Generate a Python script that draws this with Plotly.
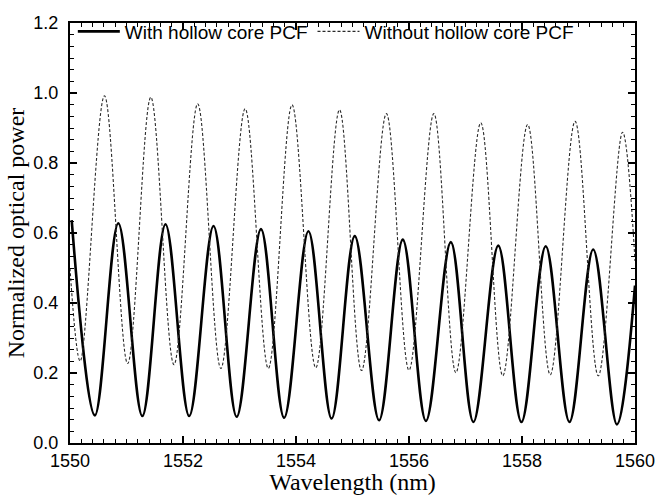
import plotly.graph_objects as go

# Extrema (wavelength nm, normalized power)
with_x = [1550.03, 1550.44, 1550.855, 1551.28, 1551.69, 1552.11, 1552.54, 1552.95,
          1553.38, 1553.79, 1554.22, 1554.63, 1555.04, 1555.47, 1555.89, 1556.30,
          1556.74, 1557.14, 1557.58, 1557.99, 1558.42, 1558.84, 1559.26, 1559.68, 1560.0]
with_y = [0.637, 0.079, 0.628, 0.077, 0.625, 0.077, 0.620, 0.075,
          0.611, 0.072, 0.605, 0.070, 0.591, 0.065, 0.581, 0.063,
          0.574, 0.060, 0.564, 0.060, 0.562, 0.060, 0.553, 0.053, 0.45]

without_x = [1550.0, 1550.18, 1550.61, 1551.02, 1551.43, 1551.84, 1552.26, 1552.67,
             1553.10, 1553.51, 1553.93, 1554.35, 1554.77, 1555.16, 1555.60, 1556.00,
             1556.44, 1556.83, 1557.27, 1557.66, 1558.10, 1558.50, 1558.94, 1559.35,
             1559.78, 1560.0]
without_y = [0.50, 0.234, 0.992, 0.227, 0.988, 0.224, 0.969, 0.213,
             0.955, 0.213, 0.966, 0.215, 0.952, 0.207, 0.941, 0.208,
             0.941, 0.201, 0.915, 0.192, 0.910, 0.195, 0.919, 0.192,
             0.888, 0.52]

fig = go.Figure()
fig.add_trace(go.Scatter(
    x=with_x, y=with_y, mode="lines", name="With hollow core PCF",
    line=dict(color="black", width=2.6, shape="spline", smoothing=1.0)))
fig.add_trace(go.Scatter(
    x=without_x, y=without_y, mode="lines", name="Without hollow core PCF",
    line=dict(color="#2a2a2a", width=1.1, dash="3px,2px", shape="spline", smoothing=1.0)))

tickfont = dict(family="Liberation Sans, Arial", size=18, color="black")
titlefont = dict(family="Liberation Serif, Times New Roman", size=24, color="black")

fig.update_layout(
    width=660, height=495,
    margin=dict(l=70, r=25, t=17, b=52),
    paper_bgcolor="white", plot_bgcolor="white",
    showlegend=True,
    legend=dict(orientation="h", x=0.005, y=1.025, xanchor="left", yanchor="top",
                bgcolor="rgba(0,0,0,0)", font=dict(family="Liberation Sans, Arial", size=19, color="black"),
                itemwidth=42, tracegroupgap=0),
)
fig.update_xaxes(
    range=[1550, 1560], dtick=2, tick0=1550, automargin=False,
    showline=True, linecolor="black", linewidth=2, mirror="allticks",
    ticks="inside", ticklen=7, tickwidth=1.5, tickcolor="black",
    minor=dict(ticks="inside", dtick=0.2, ticklen=4, tickwidth=1.2, tickcolor="black", showgrid=False),
    showgrid=False, zeroline=False, tickfont=tickfont,
    title=dict(text="Wavelength (nm)", font=titlefont, standoff=3),
)
fig.update_yaxes(
    range=[0, 1.2], dtick=0.2, tick0=0, tickformat=".1f", automargin=False,
    showline=True, linecolor="black", linewidth=2, mirror="allticks",
    ticks="inside", ticklen=7, tickwidth=1.5, tickcolor="black", ticklabelstandoff=6,
    minor=dict(ticks="inside", dtick=0.2 / 6, ticklen=4, tickwidth=1.2, tickcolor="black", showgrid=False),
    showgrid=False, zeroline=False, tickfont=tickfont,
    title=dict(text="Normalized optical power", font=titlefont, standoff=2),
)

fig.write_html("out.html")
